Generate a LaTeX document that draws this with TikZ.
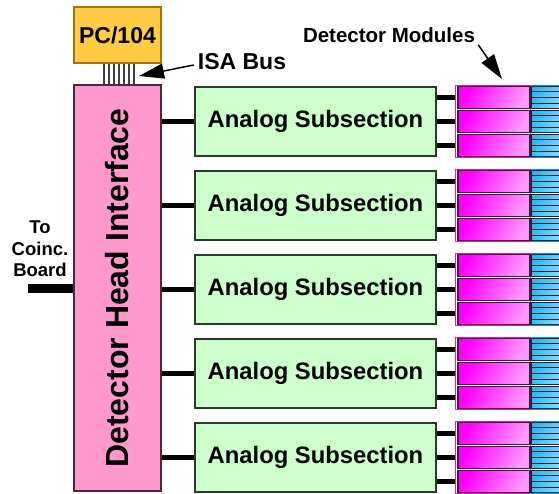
\documentclass[tikz,border=0pt]{standalone}
\usepackage{fontspec}
\setmainfont{Liberation Sans}
\usetikzlibrary{arrows.meta,calc}

\definecolor{pcfill}{HTML}{FFCC44}
\definecolor{pcdraw}{HTML}{A87010}
\definecolor{dhifill}{HTML}{FF99CC}
\definecolor{dhidraw}{HTML}{4A2A3A}
\definecolor{asfill}{HTML}{CCFFCC}
\definecolor{asdraw}{HTML}{2A3A2A}
\definecolor{magdark}{HTML}{FF00FF}
\definecolor{maglight}{HTML}{FF99FF}
\definecolor{cyandark}{HTML}{22BBEE}
\definecolor{cyanlight}{HTML}{88DDFF}
\definecolor{bardraw}{HTML}{3A1A3A}

\newcommand{\fsz}[1]{\fontsize{#1}{#1}\selectfont\bfseries}

\begin{document}
\begin{tikzpicture}[x=1pt,y=-1pt,
  pcbox/.style={draw=pcdraw, fill=pcfill, line width=1.2pt, inner sep=0pt,
    minimum width=87pt, minimum height=56pt, font=\fsz{23}},
  dhibox/.style={draw=dhidraw, fill=dhifill, line width=1.2pt, inner sep=0pt,
    minimum width=87pt, minimum height=406pt},
  asbox/.style={draw=asdraw, fill=asfill, line width=1.2pt, inner sep=0pt,
    minimum width=241pt, minimum height=69pt, font=\fsz{23.8}},
  magbar/.style={draw=bardraw, line width=1.3pt, inner sep=0pt,
    left color=magdark, right color=maglight, shading angle=60,
    minimum width=72pt, minimum height=22pt},
  cyanbar/.style={draw=bardraw, line width=1.3pt, inner sep=0pt,
    left color=cyandark, right color=cyanlight, shading angle=60,
    minimum width=34pt, minimum height=22pt},
  conn/.style={line width=5pt},
  pin/.style={draw=black!75, line width=1.4pt},
  callout/.style={line width=1.5pt, -{Triangle[length=25pt,width=15pt]}},
  label/.style={inner sep=0pt, font=\fsz{#1}},
]
\useasboundingbox (0,0) rectangle (559,493);

% PC/104 board and its ISA bus pins
\node[pcbox] (pc) at (117.5,35) {PC/104};
\node[dhibox] (dhi) at (117.5,288) {};
\node[rotate=90, font=\fsz{32}] (dhitext) at (dhi.center) {Detector Head Interface};
\foreach \k in {0,...,6} {
  \pgfmathsetmacro{\px}{104+5*\k}
  \draw[pin] (\px,0 |- pc.south) -- (\px,0 |- dhi.north);
}

% ISA Bus label and callout
\node[label=23] (isa) at (242,62) {ISA Bus};
\coordinate (isatip) at (139,76);
\draw[callout] ([xshift=-4pt,yshift=-3pt]isa.west) -- (isatip);

% Detector Modules label and callout
\node[label=20.5] (dm) at (389,35) {Detector Modules};
\coordinate (dmtip) at (502,79);
\draw[callout] ([xshift=3pt,yshift=-2pt]dm.south east) -- (dmtip);

% Link to the coincidence board
\node[align=center, inner sep=0pt, font=\fontsize{18.5}{21.5}\selectfont\bfseries]
  (coinc) at (40,249) {To\\Coinc.\\Board};
\coordinate (coincend) at (28,288);
\draw[line width=9pt] (coincend) -- (coincend -| dhi.west);

% Analog subsections with their detector modules
\foreach \i in {1,...,5} {
  \pgfmathsetmacro{\cy}{121.5+84*(\i-1)}
  \node[asbox] (as\i) at (315.5,\cy) {Analog Subsection};
  \draw[conn] (as\i.west) -- (as\i.west -| dhi.east);
  % module frame
  \draw[magenta!90!white, line width=1pt] (455,\cy-36) rectangle (530,\cy+36);
  \draw[cyan!80!blue, line width=1pt] (530,\cy-36) rectangle (566,\cy+36);
  \foreach \j/\d in {1/-24,2/0,3/24} {
    \node[magbar] (m\i\j) at (494,\cy+\d) {};
    \node[cyanbar, anchor=west] (c\i\j) at (m\i\j.east) {};
    \foreach \q in {0.25,0.5,0.75}
      \draw[bardraw, line width=1pt]
        ($(c\i\j.north west)!\q!(c\i\j.south west)$) --
        ($(c\i\j.north east)!\q!(c\i\j.south east)$);
    \draw[conn] (m\i\j.west -| as\i.east) -- ([xshift=-2pt]m\i\j.west);
  }
}
\end{tikzpicture}
\end{document}
